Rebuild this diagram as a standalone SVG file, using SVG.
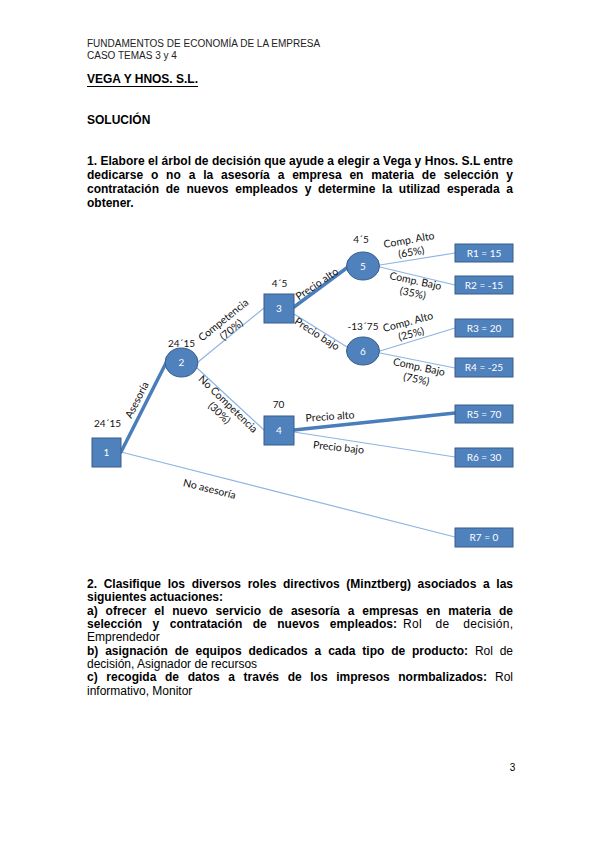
<svg xmlns="http://www.w3.org/2000/svg" width="599" height="848" viewBox="0 0 599 848">
<style>
.doc{font-family:"Liberation Sans",Arial,sans-serif;fill:#000}
.hd{font-size:10px;fill:#222}
.b12{font-size:12px;font-weight:bold}
.r12{font-size:12px}
.lbl{font-family:Lato,"Open Sans",sans-serif;font-size:10.5px;fill:#111}
.val{font-family:Lato,"Open Sans",sans-serif;font-size:10px;fill:#111}
.wt{font-family:Lato,"Open Sans",sans-serif;font-size:10px;fill:#fff}
.nd{fill:#4f81bd;stroke:#385d8a;stroke-width:1}
.thin{stroke:#8eb4e3;stroke-width:1.2;fill:none}
.thick{stroke:#4a7ebb;stroke-width:3.5;fill:none;stroke-linecap:round}
</style>
<rect width="599" height="848" fill="#fff"/>
<g id="header" class="doc">
<text class="hd" x="87" y="46.5">FUNDAMENTOS DE ECONOMÍA DE LA EMPRESA</text>
<text class="hd" x="87" y="58.8">CASO TEMAS 3 y 4</text>
<text class="b12" x="87" y="83" textLength="111" lengthAdjust="spacingAndGlyphs">VEGA Y HNOS. S.L.</text>
<line x1="87" y1="86.5" x2="198" y2="86.5" stroke="#000" stroke-width="1"/>
<text class="b12" x="87" y="124">SOLUCIÓN</text>
<text class="b12" x="87" y="165" textLength="426" lengthAdjust="spacing">1. Elabore el árbol de decisión que ayude a elegir a Vega y Hnos. S.L entre</text>
<text class="b12" x="87" y="179" word-spacing="4.5" textLength="426" lengthAdjust="spacing">dedicarse o no a la asesoría a empresa en materia de selección y</text>
<text class="b12" x="87" y="193" word-spacing="3.4" textLength="426" lengthAdjust="spacing">contratación de nuevos empleados y determine la utilizad esperada a</text>
<text class="b12" x="87" y="207">obtener.</text>
</g>
<g id="connectors">
<line class="thin" x1="121" y1="452" x2="455" y2="537"/>
<line class="thin" x1="198" y1="362" x2="264" y2="308"/>
<line class="thin" x1="197" y1="368" x2="264" y2="430"/>
<line class="thin" x1="294" y1="314" x2="347" y2="347"/>
<line class="thin" x1="380" y1="265" x2="455" y2="253"/>
<line class="thin" x1="380" y1="267" x2="455" y2="285"/>
<line class="thin" x1="380" y1="351" x2="455" y2="328"/>
<line class="thin" x1="380" y1="353" x2="455" y2="368"/>
<line class="thin" x1="294" y1="432" x2="455" y2="457"/>
<line class="thick" x1="121" y1="452" x2="166" y2="363"/>
<line class="thick" x1="294" y1="307" x2="348" y2="267"/>
<line class="thick" x1="294" y1="430" x2="455" y2="413"/>
</g>
<g id="edge-labels">
<text class="lbl" transform="translate(137,400) rotate(-63)" text-anchor="middle" y="3.5">Asesoría</text>
<g transform="translate(223.5,320) rotate(-39)"><text class="lbl" text-anchor="middle" y="3.5">Competencia</text><text class="lbl" text-anchor="middle" y="16">(70%)</text></g>
<g transform="translate(228,404) rotate(44)"><text class="lbl" text-anchor="middle" y="3.5">No Competencia</text><text class="lbl" text-anchor="middle" y="16">(30%)</text></g>
<text class="lbl" transform="translate(317,284) rotate(-34)" text-anchor="middle" y="3.5">Precio alto</text>
<text class="lbl" transform="translate(317,334) rotate(33)" text-anchor="middle" y="3.5">Precio bajo</text>
<g transform="translate(409,240) rotate(-10)"><text class="lbl" text-anchor="middle" y="3.5">Comp. Alto</text><text class="lbl" text-anchor="middle" y="16">(65%)</text></g>
<g transform="translate(415.5,281) rotate(12)"><text class="lbl" text-anchor="middle" y="3.5">Comp. Bajo</text><text class="lbl" text-anchor="middle" y="16">(35%)</text></g>
<g transform="translate(408,322) rotate(-15)"><text class="lbl" text-anchor="middle" y="3.5">Comp. Alto</text><text class="lbl" text-anchor="middle" y="16">(25%)</text></g>
<g transform="translate(419,367) rotate(12)"><text class="lbl" text-anchor="middle" y="3.5">Comp. Bajo</text><text class="lbl" text-anchor="middle" y="16">(75%)</text></g>
<text class="lbl" transform="translate(330,416.5) rotate(-4)" text-anchor="middle" y="3.5">Precio alto</text>
<text class="lbl" transform="translate(338.5,447.5) rotate(6)" text-anchor="middle" y="3.5">Precio bajo</text>
<text class="lbl" transform="translate(209.5,489) rotate(14)" text-anchor="middle" y="3.5">No asesoría</text>
</g>
<g id="node1"><rect class="nd" x="92" y="438" width="29" height="29"/><text class="wt" x="106.5" y="456" text-anchor="middle">1</text><text class="val" x="107.5" y="427" text-anchor="middle">24´15</text></g>
<g id="node2"><ellipse class="nd" cx="181.5" cy="362.5" rx="16.5" ry="14.5"/><text class="wt" x="181.5" y="366" text-anchor="middle">2</text><text class="val" x="181.5" y="347" text-anchor="middle">24´15</text></g>
<g id="node3"><rect class="nd" x="264" y="294" width="30" height="29"/><text class="wt" x="279" y="312" text-anchor="middle">3</text><text class="val" x="279.5" y="287" text-anchor="middle">4´5</text></g>
<g id="node4"><rect class="nd" x="264" y="416" width="30" height="29"/><text class="wt" x="279" y="434" text-anchor="middle">4</text><text class="val" x="278.5" y="408" text-anchor="middle">70</text></g>
<g id="node5"><ellipse class="nd" cx="363" cy="266" rx="16.5" ry="14"/><text class="wt" x="363" y="269.5" text-anchor="middle">5</text><text class="val" x="361" y="243" text-anchor="middle">4´5</text></g>
<g id="node6"><ellipse class="nd" cx="363" cy="351" rx="16.5" ry="14"/><text class="wt" x="363" y="354.5" text-anchor="middle">6</text><text class="val" x="363" y="330" text-anchor="middle">-13´75</text></g>
<g id="R1"><rect class="nd" x="455" y="244" width="58" height="18"/><text class="wt" x="484" y="256.5" text-anchor="middle">R1 = 15</text></g>
<g id="R2"><rect class="nd" x="455" y="276" width="58" height="18"/><text class="wt" x="484" y="288.5" text-anchor="middle">R2 = -15</text></g>
<g id="R3"><rect class="nd" x="455" y="319" width="58" height="18"/><text class="wt" x="484" y="331.5" text-anchor="middle">R3 = 20</text></g>
<g id="R4"><rect class="nd" x="455" y="358" width="58" height="19"/><text class="wt" x="484" y="371" text-anchor="middle">R4 = -25</text></g>
<g id="R5"><rect class="nd" x="455" y="405" width="58" height="18"/><text class="wt" x="484" y="417.5" text-anchor="middle">R5 = 70</text></g>
<g id="R6"><rect class="nd" x="455" y="448" width="58" height="19"/><text class="wt" x="484" y="461" text-anchor="middle">R6 = 30</text></g>
<g id="R7"><rect class="nd" x="455" y="528" width="58" height="19"/><text class="wt" x="484" y="541" text-anchor="middle">R7 = 0</text></g>
<g id="section2" class="doc">
<text class="b12" x="87" y="588" word-spacing="3.3" textLength="426" lengthAdjust="spacing">2. Clasifique los diversos roles directivos (Minztberg) asociados a las</text>
<text class="b12" x="87" y="601.4">siguientes actuaciones:</text>
<text class="b12" x="87" y="614.7" word-spacing="4.6" textLength="426" lengthAdjust="spacing">a) ofrecer el nuevo servicio de asesoría a empresas en materia de</text>
<text class="b12" x="87" y="628" word-spacing="7" textLength="310" lengthAdjust="spacing">selección y contratación de nuevos empleados:</text>
<text class="r12" x="403" y="628" word-spacing="10" textLength="110" lengthAdjust="spacing">Rol de decisión,</text>
<text class="r12" x="87" y="641.4">Emprendedor</text>
<text class="b12" x="87" y="654.7" word-spacing="3.5" textLength="381" lengthAdjust="spacing">b) asignación de equipos dedicados a cada tipo de producto:</text>
<text class="r12" x="475" y="654.7" word-spacing="3.5" textLength="38" lengthAdjust="spacing">Rol de</text>
<text class="r12" x="87" y="668">decisión, Asignador de recursos</text>
<text class="b12" x="87" y="681.4" word-spacing="5.3" textLength="400" lengthAdjust="spacing">c) recogida de datos a través de los impresos normbalizados:</text>
<text class="r12" x="495" y="681.4" textLength="18" lengthAdjust="spacing">Rol</text>
<text class="r12" x="87" y="694.7">informativo, Monitor</text>
</g>
<text class="doc" x="512.5" y="771" font-size="10" text-anchor="middle" fill="#333">3</text>
</svg>
